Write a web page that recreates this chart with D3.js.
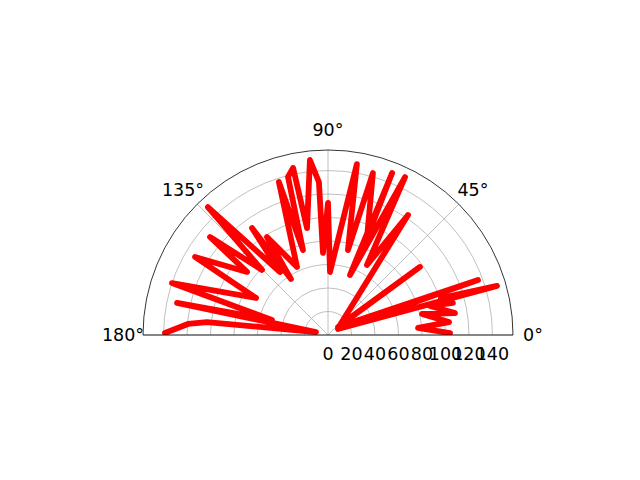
<!DOCTYPE html>
<html>
<head>
<meta charset="utf-8">
<script src="https://cdn.jsdelivr.net/npm/d3@7"></script>
<style>
  html, body { margin: 0; padding: 0; background: #fff; }
  text { font-family: "DejaVu Sans", sans-serif; }
</style>
</head>
<body>
<svg id="chart" width="640" height="480"></svg>
<script>
// ---- data (angle in degrees, radius in data units) ----
const thetaDeg = [0.9, 4.5, 6.1, 12.6, 9.8, 15.9, 14.4, 18.1, 16.2, 31.0, 20.1, 38.7, 36.5, 39.8,
  56.3, 60.9, 64.0, 69.9, 68.4, 68.1, 74.5, 76.8, 80.4, 88.2, 90.0, 93.5, 93.4, 95.9, 101.1,
  101.8, 104.2, 106.4, 107.8, 114.5, 121.9, 123.5, 125.4, 127.3, 133.2, 135.4, 140.3, 142.1,
  149.6, 152.8, 161.6, 165.0, 168.0, 166.0, 173.9, 175.5, 179.3];
const radius = [103.9, 76.9, 103.6, 82.0, 109.7, 90.3, 109.8, 101.2, 149.8, 9.9, 136.0, 10.9, 97.4, 13.3,
  122.8, 68.2, 149.6, 54.4, 148.3, 89.0, 143.1, 74.3, 147.6, 53.7, 112.4, 70.0, 130.5, 149.8, 92.8,
  145.3, 138.8, 75.4, 136.8, 63.6, 98.3, 57.1, 111.7, 67.4, 149.4, 78.9, 130.6, 87.4,
  131.3, 68.9, 140.0, 49.4, 131.4, 10.5, 103.6, 119.6, 138.8];
const rTicks = [0, 20, 40, 60, 80, 100, 120, 140];
const thetaTicks = [0, 45, 90, 135, 180];
const rMax = 157.5;

// ---- layout ----
const cx = 328, cy = 335, R = 185;
const svg = d3.select("#chart");
const g = svg.append("g").attr("transform", `translate(${cx},${cy})`);

const rScale = d3.scaleLinear().domain([0, rMax]).range([0, R]);
// d3 radial angle: 0 at 12 o'clock, clockwise
const aScale = d3.scaleLinear().domain([0, 180]).range([Math.PI / 2, -Math.PI / 2]);
const pos = (t, r) => [rScale(r) * Math.sin(aScale(t)), -rScale(r) * Math.cos(aScale(t))];

// clip to half disc
svg.append("defs").append("clipPath").attr("id", "half")
  .append("path")
  .attr("d", d3.arc().innerRadius(0).outerRadius(R).startAngle(-Math.PI / 2).endAngle(Math.PI / 2)());

// radial grid circles
const halfArc = r => { const p = d3.path(); p.moveTo(r, 0); p.arc(0, 0, r, 0, -Math.PI, true); return p.toString(); };
g.selectAll(".rgrid").data(rTicks.filter(d => d > 0)).join("path")
  .attr("d", d => halfArc(rScale(d)))
  .attr("fill", "none").attr("stroke", "#b0b0b0").attr("stroke-width", 0.8);

// angular grid lines
g.selectAll(".tgrid").data(thetaTicks).join("line")
  .attr("x1", 0).attr("y1", 0)
  .attr("x2", d => pos(d, rMax)[0]).attr("y2", d => pos(d, rMax)[1])
  .attr("stroke", "#b0b0b0").attr("stroke-width", 0.8);

// data line
const pts = thetaDeg.map((t, i) => ({ t, r: radius[i] }));
const line = d3.lineRadial().angle(d => aScale(d.t)).radius(d => rScale(d.r));
g.append("path").datum(pts)
  .attr("clip-path", "url(#half)")
  .attr("d", line)
  .attr("fill", "none").attr("stroke", "#ff0000").attr("stroke-width", 5.8)
  .attr("stroke-linejoin", "round").attr("stroke-linecap", "round");

// spines
g.append("path").attr("d", halfArc(R)).attr("fill", "none").attr("stroke", "#000").attr("stroke-width", 0.8);
g.append("line").attr("x1", -R).attr("x2", R).attr("y1", 0).attr("y2", 0)
  .attr("stroke", "#000").attr("stroke-width", 0.8);

// theta labels
g.selectAll(".tlab").data(thetaTicks).join("text")
  .attr("x", d => pos(d, rMax * 205 / R)[0])
  .attr("y", d => pos(d, rMax * 205 / R)[1])
  .attr("dy", "0.36em")
  .attr("text-anchor", "middle")
  .attr("font-size", "17.5px").attr("fill", "#000")
  .text(d => d + "°");

// r labels
g.selectAll(".rlab").data(rTicks).join("text")
  .attr("x", d => rScale(d))
  .attr("y", 25)
  .attr("text-anchor", "middle")
  .attr("font-size", "17.5px").attr("fill", "#000")
  .text(d => d);
</script>
</body>
</html>
